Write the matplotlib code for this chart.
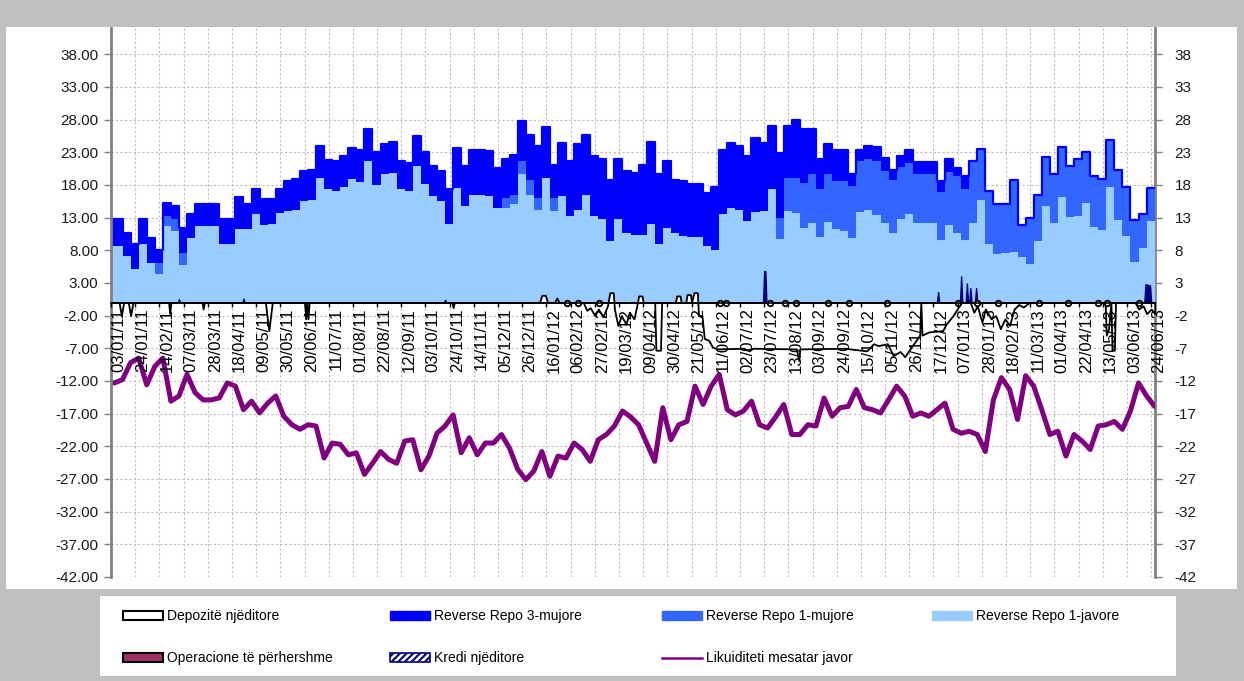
import numpy as np
import pandas as pd
import matplotlib
matplotlib.use('Agg')
import matplotlib.pyplot as plt
from matplotlib.patches import Patch, Rectangle
from matplotlib.lines import Line2D

plt.rcParams['font.family'] = ['Liberation Sans', 'DejaVu Sans']
plt.rcParams['hatch.linewidth'] = 1.5

W, H = 1244, 681

# ---------------- data ----------------
# weekly auction periods (first period starts on the first day of the chart)
week_start = ['2011-01-03'] + list(pd.date_range('2011-01-13', periods=129, freq='7D').strftime('%Y-%m-%d'))

repo_1javore = [8.7, 7.1, 5.1, 8.9, 6.1, 4.4, 11.7, 10.9, 5.8, 9.9,
                11.7, 11.7, 11.7, 8.9, 8.9, 11.3, 11.3, 13.6, 11.9, 12.0,
                13.7, 14.0, 14.2, 15.5, 15.7, 19.1, 17.3, 17.1, 17.6, 18.9,
                18.5, 21.7, 18.0, 19.6, 19.8, 17.3, 17.0, 20.9, 18.1, 16.3,
                15.5, 12.0, 17.5, 14.7, 16.5, 16.5, 16.3, 14.5, 14.5, 15.0,
                19.6, 16.4, 14.2, 19.1, 14.0, 16.3, 13.2, 14.2, 16.5, 13.2,
                12.7, 9.4, 12.7, 10.7, 10.4, 10.4, 12.0, 8.9, 11.4, 10.7,
                10.2, 10.0, 10.0, 8.6, 8.0, 13.5, 14.5, 14.2, 12.4, 13.8,
                14.0, 17.3, 9.7, 14.0, 13.7, 11.4, 12.2, 10.0, 12.3, 11.2,
                11.0, 9.8, 13.9, 14.2, 13.4, 12.2, 10.6, 12.8, 13.5, 12.2,
                12.1, 12.1, 9.5, 11.8, 10.7, 9.5, 12.2, 15.7, 9.0, 7.4,
                7.6, 7.8, 7.0, 5.9, 9.4, 14.8, 12.1, 16.1, 13.1, 13.3,
                15.3, 11.5, 11.1, 17.7, 12.6, 10.1, 6.2, 8.3, 12.5, 12.5]

repo_1mujore = [0, 0, 0, 0, 0, 1.7, 1.6, 1.8, 1.8, 0,
                0, 0, 0, 0, 0, 0, 0, 0, 0, 0,
                0, 0, 0, 0, 0, 0, 0, 0, 0, 0,
                0, 0, 0, 0, 0, 0, 0, 0, 0, 0,
                0, 0, 0, 0, 0, 0, 0, 0, 1.5, 1.5,
                2.0, 2.4, 1.8, 0, 2.0, 0, 0, 0, 0, 0,
                0, 0, 0, 0, 0, 0, 0, 0, 0, 0,
                0, 0, 0, 0, 0, 0, 0, 0, 0, 0,
                0, 0, 3.3, 5.1, 5.4, 6.9, 7.4, 7.3, 7.3, 7.4,
                7.6, 8.0, 7.7, 7.8, 8.2, 7.9, 8.2, 8.0, 7.9, 7.5,
                7.5, 7.5, 7.4, 8.1, 8.6, 7.9, 9.4, 7.8, 8.0, 7.7,
                7.5, 10.9, 4.9, 7.0, 7.0, 7.5, 7.6, 7.7, 7.8, 8.6,
                7.8, 7.8, 7.8, 7.1, 7.6, 7.5, 6.4, 5.2, 5.0, 5.0]

repo_3mujore = [4.0, 3.6, 3.8, 3.8, 3.8, 2.0, 2.0, 2.0, 3.8, 3.6,
                3.4, 3.4, 3.4, 3.8, 3.8, 4.8, 3.7, 3.8, 4.0, 3.9,
                3.6, 4.6, 4.7, 4.6, 4.5, 4.8, 4.5, 4.5, 4.8, 4.8,
                4.8, 4.8, 5.0, 4.6, 4.8, 4.3, 4.4, 4.5, 4.9, 4.6,
                4.6, 5.3, 6.2, 6.2, 6.9, 6.9, 6.9, 6.1, 6.0, 6.1,
                6.1, 6.9, 7.9, 7.8, 5.1, 8.1, 8.4, 10.0, 9.2, 9.2,
                9.2, 9.4, 9.2, 9.4, 9.4, 10.7, 12.5, 10.7, 10.2, 8.1,
                8.4, 8.2, 8.1, 8.2, 9.6, 9.9, 9.9, 9.7, 10.0, 11.4,
                10.4, 9.7, 9.9, 7.9, 8.9, 8.3, 6.9, 4.6, 4.7, 4.8,
                4.7, 1.8, 1.8, 1.9, 2.2, 2.0, 1.5, 1.6, 1.9, 1.8,
                1.9, 1.9, 1.7, 2.0, 1.3, 1.9, 0, 0, 0, 0,
                0, 0, 0, 0, 0, 0, 0, 0, 0, 0,
                0, 0, 0, 0, 0, 0, 0, 0, 0, 0]

# weekly average liquidity (purple line)
likuid_dates = ['2011-01-03'] + list(pd.date_range('2011-01-06', periods=130, freq='7D').strftime('%Y-%m-%d'))
likuiditeti = [-12.3, -12.3, -11.8, -9.2, -8.5, -12.6, -9.8, -8.5, -15.1, -14.3, -11.0,
               -13.8, -14.9, -14.9, -14.6, -12.3, -12.8, -16.4, -15.1, -16.9, -15.4,
               -14.3, -17.4, -18.7, -19.4, -18.7, -18.9, -23.8, -21.5, -21.7, -23.3,
               -23.0, -26.3, -24.6, -22.8, -24.0, -24.6, -21.2, -21.0, -25.6, -23.5,
               -20.0, -18.9, -17.2, -23.0, -20.7, -23.3, -21.5, -21.5, -20.2, -22.3,
               -25.5, -27.1, -25.8, -22.8, -26.6, -23.5, -23.8, -21.5, -22.5, -24.3,
               -21.0, -20.2, -18.9, -16.6, -17.5, -18.7, -21.5, -24.3, -16.1, -21.0,
               -18.7, -18.2, -12.8, -15.6, -12.8, -11.0, -16.4, -17.2, -16.6, -15.1,
               -18.7, -19.2, -17.5, -15.6, -20.2, -20.2, -18.7, -18.9, -14.6, -17.4,
               -16.1, -15.9, -13.3, -16.1, -16.4, -16.9, -14.9, -12.8, -14.3, -17.4,
               -16.9, -17.4, -16.4, -15.4, -19.4, -20.0, -19.7, -20.2, -22.8, -14.9,
               -11.5, -13.3, -17.9, -11.2, -12.8, -16.4, -20.2, -19.7, -23.5, -20.2,
               -21.2, -22.5, -18.9, -18.7, -18.2, -19.4, -16.6, -12.3, -14.3, -15.9]

# overnight deposits
dep_dates = ['2011-01-03', '2011-01-10', '2011-01-12', '2011-01-14', '2011-01-18', '2011-01-20', '2011-01-22',
             '2011-02-22', '2011-02-23', '2011-02-24',
             '2011-03-23', '2011-03-24', '2011-03-25',
             '2011-05-17', '2011-05-20', '2011-05-23',
             '2011-06-20', '2011-06-21', '2011-06-22', '2011-06-23', '2011-06-24',
             '2011-10-26', '2011-10-27', '2011-10-28',
             '2012-01-10', '2012-01-12', '2012-01-15', '2012-01-17',
             '2012-01-23', '2012-01-25', '2012-01-27',
             '2012-02-17', '2012-02-20', '2012-02-23', '2012-02-27', '2012-03-01', '2012-03-05', '2012-03-09',
             '2012-03-11', '2012-03-14', '2012-03-15', '2012-03-18', '2012-03-21', '2012-03-25', '2012-03-28',
             '2012-04-01', '2012-04-04',
             '2012-04-05', '2012-04-08', '2012-04-09',
             '2012-04-19', '2012-04-20', '2012-04-24', '2012-04-25',
             '2012-05-07', '2012-05-08', '2012-05-11', '2012-05-12',
             '2012-05-16', '2012-05-17', '2012-05-20', '2012-05-21',
             '2012-05-23', '2012-05-26', '2012-05-27', '2012-05-30', '2012-06-01', '2012-06-05', '2012-06-08',
             '2012-06-12',
             '2012-07-05', '2012-07-10', '2012-07-13', '2012-08-20', '2012-08-22', '2012-08-23',
             '2012-10-01', '2012-10-20', '2012-10-26', '2012-10-30', '2012-11-07', '2012-11-12', '2012-11-18',
             '2012-11-22', '2012-11-27',
             '2012-12-05', '2012-12-06', '2012-12-07', '2012-12-13', '2012-12-25', '2012-12-28', '2013-01-03',
             '2013-01-10',
             '2013-01-18', '2013-01-21', '2013-01-24', '2013-01-28', '2013-01-31', '2013-02-05', '2013-02-09',
             '2013-02-13', '2013-02-17', '2013-02-21', '2013-02-25', '2013-03-01', '2013-03-05', '2013-03-10',
             '2013-05-15', '2013-05-16', '2013-05-18', '2013-05-20', '2013-05-21', '2013-05-23', '2013-05-24',
             '2013-06-10', '2013-06-13', '2013-06-17', '2013-06-20', '2013-06-24', '2013-06-27']
dep_vals = [0, 0, -2.0, 0, 0, -2.0, 0,
            0, -1.7, 0,
            0, -1.0, 0,
            0, -4.3, 0,
            0, -2.5, 0, -2.5, 0,
            0, -0.8, 0,
            0, 1.1, 1.1, 0,
            0, 0.7, 0,
            0, -1.2, -0.8, -2.0, -1.0, -2.2, -0.5,
            1.5, 1.5, -1.0, -3.5, -2.0, -3.3, -1.5,
            -2.5, 0,
            1.0, 1.0, 0,
            0, -7.3, -7.3, 0,
            0, 1.0, 1.0, 0,
            0, 1.2, 1.2, 0,
            1.5, 1.5, -2.0, -2.0, -5.5, -5.8, -6.8,
            -7.1,
            -7.0, -7.4, -7.0, -7.1, -8.9, -7.1,
            -7.0, -7.4, -6.3, -6.6, -6.3, -8.1, -7.5,
            -8.3, -7.0,
            -5.0, 0, -5.0, -4.5, -4.3, -3.3, -2.0,
            0,
            0, -1.5, -0.5, -3.0, -1.0, -2.5, -2.0,
            -4.0, -2.5, -3.5, -1.0, -0.3, -0.7, 0,
            0, -5.0, -4.0, 0, -7.3, -7.3, 0,
            0, -1.0, -0.5, -1.7, -1.0, -1.7]
# small deposit rings sitting on the zero line
ring_dates = ['2012-02-03', '2012-02-12', '2012-03-02', '2012-06-15', '2012-06-20', '2012-07-28',
              '2012-08-10', '2012-08-20', '2012-09-16', '2012-10-05', '2012-11-07', '2013-01-07',
              '2013-01-24', '2013-02-11', '2013-03-19', '2013-04-13', '2013-05-09', '2013-05-17',
              '2013-06-13']
ring_vals = [0] * len(ring_dates)

# overnight credit
kredi_dates = ['2011-03-02', '2011-03-03', '2011-03-04', '2011-04-27', '2011-04-28', '2011-04-29',
               '2011-10-19', '2011-10-20', '2011-10-21', '2012-07-22', '2012-07-23', '2012-07-24', '2012-07-25',
               '2012-12-20', '2012-12-21', '2012-12-22', '2013-01-09', '2013-01-10', '2013-01-11',
               '2013-01-14', '2013-01-15', '2013-01-16', '2013-01-17', '2013-01-18', '2013-01-19',
               '2013-01-22', '2013-01-23', '2013-01-24', '2013-06-18', '2013-06-19', '2013-06-23', '2013-06-24']
kredi_vals = [0, 0.5, 0, 0, 0.6, 0,
              0, 0.4, 0, 0, 4.8, 4.8, 0,
              0, 1.6, 0, 0, 4.0, 0,
              0, 2.9, 0, 0, 2.2, 0,
              0, 2.2, 0, 0, 2.8, 2.6, 0]

tick_dates = pd.date_range('2011-01-03', '2013-06-24', freq='21D')
y_ticks = list(range(-42, 39, 5))

# ---------------- figure ----------------
fig = plt.figure(figsize=(W / 100, H / 100), dpi=100, facecolor='#C0C0C0')
fig.patches.append(Rectangle((6 / W, 1 - 589 / H), 1231 / W, 562 / H, transform=fig.transFigure,
                             facecolor='white', edgecolor='none', zorder=-5))
fig.patches.append(Rectangle((100 / W, 1 - 676 / H), 1076 / W, 80 / H, transform=fig.transFigure,
                             facecolor='white', edgecolor='none', zorder=-5))

ax = fig.add_axes([111 / W, 1 - 577 / H, 1044 / W, 549 / H])
ax.patch.set_alpha(0)

# spines first (set_position resets the ticks)
ax.spines['top'].set_visible(False)
ax.spines['right'].set_visible(False)
ax.spines['bottom'].set_position(('data', 0))
ax.spines['bottom'].set_color('black')
ax.spines['bottom'].set_linewidth(1.2)
ax.spines['bottom'].set_zorder(2.5)
ax.spines['left'].set_color('#808080')
ax.spines['left'].set_linewidth(2)

# dashed grid, kept underneath the data
grid_kw = dict(color='#BDBDBD', linestyle=(0, (2, 2)), lw=0.8, zorder=0.5)
for t in tick_dates:
    ax.axvline(t, **grid_kw)
for v in y_ticks:
    ax.axhline(v, **grid_kw)

xw = pd.to_datetime(week_start)
c1 = np.array(repo_1javore)
c2 = c1 + np.array(repo_1mujore)
c3 = c2 + np.array(repo_3mujore)
ax.fill_between(xw, 0, c1, step='post', facecolor='#99CCFF', edgecolor='#99CCFF', lw=0.3, zorder=1.5)
ax.fill_between(xw, c1, c2, step='post', facecolor='#3366FF', edgecolor='none', lw=0, zorder=1.55)
ax.fill_between(xw, c2, c3, step='post', facecolor='#0000FF', edgecolor='none', lw=0, zorder=1.6)
ax.step(xw, c3, where='post', color='#0000FF', lw=1.6, zorder=1.65)

ax.fill_between(pd.to_datetime(kredi_dates), kredi_vals, 0, facecolor='#000080', edgecolor='#000080',
                lw=1.0, zorder=2.0)
ax.fill_between(pd.to_datetime(dep_dates), dep_vals, 0, facecolor='white', edgecolor='black',
                lw=1.3, zorder=2.1)
ax.scatter(pd.to_datetime(ring_dates), ring_vals, s=16, facecolor='white', edgecolor='black',
           linewidths=1.3, zorder=2.15)
ax.plot(pd.to_datetime(likuid_dates), likuiditeti, color='#800080', lw=3.6,
        solid_joinstyle='round', solid_capstyle='round', zorder=2.3)

ax.set_ylim(-42, 42)
ax.set_xlim(pd.Timestamp('2011-01-03'), pd.Timestamp('2013-06-27 07:00'))

ax.set_yticks(y_ticks)
ax.set_yticklabels([f'{v:.2f}' for v in y_ticks])
ax.set_xticks(tick_dates)
ax.set_xticklabels([d.strftime('%d/%m/%y') for d in tick_dates])

ax.tick_params(axis='y', direction='out', length=5, width=1, color='#808080', pad=4,
               labelsize=11, labelcolor='#1a1a1a')
ax.tick_params(axis='x', direction='out', length=3, width=1, color='black', pad=1,
               labelsize=12, labelcolor='black', labelrotation=90)
# tick labels drawn above the data (as in the reference)
ax.xaxis.set_zorder(2.6)
ax.yaxis.set_zorder(2.6)

sec = ax.secondary_yaxis('right')
sec.set_yticks(y_ticks)
sec.set_yticklabels([str(v) for v in y_ticks])
sec.spines['right'].set_color('#808080')
sec.spines['right'].set_linewidth(2)
sec.tick_params(direction='out', length=5, width=1, color='#808080', pad=9,
                labelsize=11, labelcolor='#1a1a1a')

# ---------------- legend ----------------
h_dep = Patch(facecolor='white', edgecolor='black', lw=1.5)
h_op = Patch(facecolor='#993366', edgecolor='black', lw=1.5)
h_rr3 = Patch(facecolor='#0000FF', edgecolor='#0000FF')
h_kr = Patch(facecolor='white', edgecolor='#000080', hatch='/////', lw=1.2)
h_rr1m = Patch(facecolor='#3366FF', edgecolor='#3366FF')
h_lik = Line2D([], [], color='#800080', lw=1.8)
h_rr1j = Patch(facecolor='#99CCFF', edgecolor='#99CCFF')

columns = [
    (123, [h_dep, h_op], ['Depozitë njëditore', 'Operacione të përhershme']),
    (390, [h_rr3, h_kr], ['Reverse Repo 3-mujore', 'Kredi njëditore']),
    (662, [h_rr1m, h_lik], ['Reverse Repo 1-mujore', 'Likuiditeti mesatar javor']),
    (932, [h_rr1j], ['Reverse Repo 1-javore']),
]
for xpx, hs, ls in columns:
    fig.legend(hs, ls, loc='upper left', bbox_to_anchor=(xpx / W, 1 - 609 / H),
               frameon=False, fontsize=10, handlelength=2.9, handleheight=0.6,
               handletextpad=0.3, labelspacing=2.05, borderpad=0, borderaxespad=0)

for lab in ax.get_xticklabels():
    lab.set_horizontalalignment('left')

fig.savefig('out.png', dpi=100, facecolor=fig.get_facecolor())
